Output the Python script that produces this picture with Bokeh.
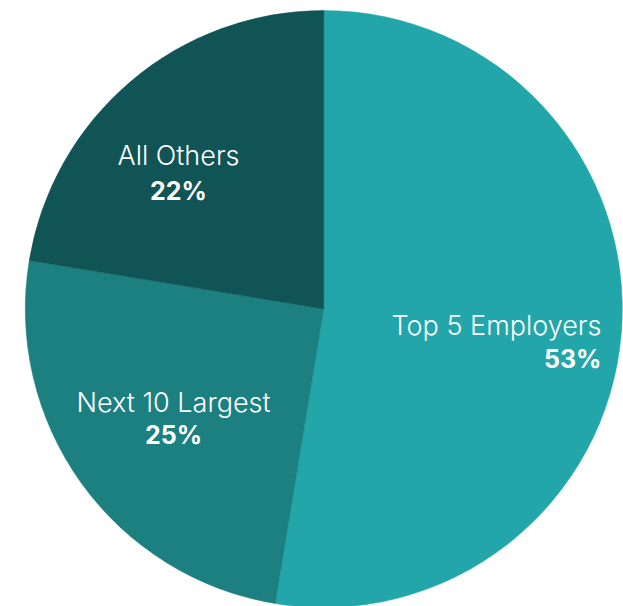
import math
from bokeh.plotting import figure
from bokeh.models import Range1d, ColumnDataSource
from bokeh.core.properties import value
from bokeh.embed import file_html
from bokeh.resources import INLINE

# ---- data ----
categories = ["Top 5 Employers", "Next 10 Largest", "All Others"]
shares = [52.6, 25.0, 22.4]          # slice sizes (%)
labels = [f"{round(s)}%" for s in shares]
colors = ["#22A6A9", "#1C7F80", "#115455"]

# ---- layout (pixel units of the plot frame) ----
W, H = 623, 606
cx, cy, R = 323.3, 297.5, 298.5
# label anchors: (x, baseline of name, baseline of percent, align)
label_layout = [
    (601, 281, 248, "right"),
    (173, 204, 172, "center"),
    (178, 451, 416, "center"),
]

total = float(sum(shares))
starts, ends = [], []
a = math.pi / 2
for s in shares:
    starts.append(a)
    a -= 2 * math.pi * s / total
    ends.append(a)

p = figure(width=W, height=H, output_backend="svg", toolbar_location=None,
           x_range=Range1d(0, W), y_range=Range1d(0, H), min_border=0)
p.axis.visible = False
p.grid.visible = False
p.outline_line_color = None
p.background_fill_color = "white"
p.border_fill_color = "white"

src = ColumnDataSource(dict(start=starts, end=ends, color=colors, cat=categories))
p.wedge(x=cx, y=cy, radius=R, start_angle="start", end_angle="end",
        direction="clock", fill_color="color", line_color="color", line_width=0.5,
        source=src)

for (cat, lab, (lx, ny, py, al)) in zip(categories, labels, label_layout):
    p.text(x=[lx], y=[ny], text=[cat], text_align=al, text_baseline="alphabetic",
           text_font=value("Inter Light"), text_font_size="27px", text_color="white")
    p.text(x=[lx], y=[py], text=[lab], text_align=al, text_baseline="alphabetic",
           text_font=value("Inter"), text_font_style="bold", text_font_size="25px",
           text_color="white")

open("out.html", "w").write(file_html(p, INLINE))
